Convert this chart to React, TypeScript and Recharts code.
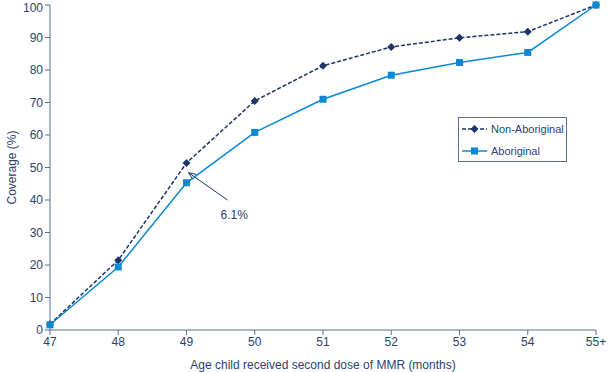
import React from 'react';
import { LineChart, Line, XAxis, YAxis, ReferenceLine } from 'recharts';

const months = [47, 48, 49, 50, 51, 52, 53, 54, 55];
const nonAboriginal = [1.8, 21.5, 51.4, 70.5, 81.3, 87.1, 89.9, 91.8, 100];
const aboriginal = [1.6, 19.4, 45.3, 60.8, 71.0, 78.4, 82.3, 85.4, 100];
const yTicks = [0, 10, 20, 30, 40, 50, 60, 70, 80, 90, 100];

const NAVY = '#1b3566';
const BLUE = '#0a88d4';
const AXIS = '#5b6f96';
const TEXT = '#2c4170';
const FONT = '"Liberation Sans", Arial, sans-serif';

const data = months.map((m, i) => ({
  month: m,
  nonAboriginal: nonAboriginal[i],
  aboriginal: aboriginal[i],
}));

const Diamond = (props: any) => {
  const { cx, cy, index } = props;
  if (cx == null || cy == null) return <g key={`d-${index}`} />;
  const r = 4;
  return (
    <path
      key={`d-${index}`}
      d={`M${cx},${cy - r}L${cx + r},${cy}L${cx},${cy + r}L${cx - r},${cy}Z`}
      fill={NAVY}
    />
  );
};

const Square = (props: any) => {
  const { cx, cy, index } = props;
  if (cx == null || cy == null) return <g key={`s-${index}`} />;
  return <rect key={`s-${index}`} x={cx - 3.5} y={cy - 3.5} width={7} height={7} fill={BLUE} />;
};

const Arrow = (props: any) => {
  const { x1, y1, x2, y2 } = props;
  const ang = Math.atan2(y2 - y1, x2 - x1);
  const L = 8;
  const a1 = ang + 0.4;
  const a2 = ang - 0.4;
  return (
    <g>
      <line x1={x1} y1={y1} x2={x2} y2={y2} stroke={NAVY} strokeWidth={1} />
      <path
        d={`M${x2 - L * Math.cos(a1)},${y2 - L * Math.sin(a1)}L${x2},${y2}L${x2 - L * Math.cos(a2)},${y2 - L * Math.sin(a2)}`}
        fill="none"
        stroke={NAVY}
        strokeWidth={1}
      />
    </g>
  );
};

const LegendBox = () => (
  <div
    style={{
      position: 'absolute',
      left: 458,
      top: 117,
      width: 107,
      height: 43,
      boxSizing: 'content-box',
      border: `1px solid ${AXIS}`,
      background: '#fff',
      fontSize: 11,
      color: TEXT,
      fontFamily: FONT,
      whiteSpace: 'nowrap',
    }}
  >
    <div style={{ display: 'flex', alignItems: 'center', height: 14, marginTop: 4, marginLeft: 3 }}>
      <svg width={25} height={10} style={{ marginRight: 4 }}>
        <line x1={0} y1={5} x2={25} y2={5} stroke={NAVY} strokeWidth={1.5} strokeDasharray="4 2" />
        <path d="M12.5,1L16.5,5L12.5,9L8.5,5Z" fill={NAVY} />
      </svg>
      Non-Aboriginal
    </div>
    <div style={{ display: 'flex', alignItems: 'center', height: 14, marginTop: 8, marginLeft: 3 }}>
      <svg width={25} height={10} style={{ marginRight: 4 }}>
        <line x1={0} y1={5} x2={25} y2={5} stroke={BLUE} strokeWidth={1.5} />
        <rect x={9} y={1.5} width={7} height={7} fill={BLUE} />
      </svg>
      Aboriginal
    </div>
  </div>
);

export default function App() {
  return (
    <div style={{ position: 'absolute', left: 0, top: 0, width: 613, height: 372 }}>
      <LineChart
        width={613}
        height={372}
        data={data}
        margin={{ top: 5, right: 17, bottom: 2, left: 0 }}
        style={{ fontFamily: FONT }}
      >
        <XAxis
          dataKey="month"
          type="number"
          domain={[47, 55]}
          ticks={months}
          tickFormatter={(v: number) => (v === 55 ? '55+' : String(v))}
          height={40}
          stroke={AXIS}
          tick={{ fill: TEXT, fontSize: 12 }}
          tickSize={5}
          label={{ value: 'Age child received second dose of MMR (months)', position: 'insideBottom', offset: 1, fill: TEXT, fontSize: 12 }}
        />
        <YAxis
          domain={[0, 100]}
          ticks={yTicks}
          width={50}
          stroke={AXIS}
          tick={{ fill: TEXT, fontSize: 12 }}
          tickSize={5}
          label={{ value: 'Coverage (%)', angle: -90, position: 'insideLeft', offset: 12, fill: TEXT, fontSize: 12, style: { textAnchor: 'middle' } }}
        />
        <ReferenceLine
          segment={[{ x: 49.6, y: 40 }, { x: 49.03, y: 48.4 }]}
          shape={<Arrow />}
          ifOverflow="visible"
        />
        <ReferenceLine
          segment={[{ x: 49.7, y: 36 }, { x: 49.7, y: 36 }]}
          stroke="none"
          ifOverflow="visible"
          label={{ value: '6.1%', position: 'bottom', fill: TEXT, fontSize: 12, offset: -3 }}
        />
        <Line
          type="linear"
          dataKey="nonAboriginal"
          name="Non-Aboriginal"
          stroke={NAVY}
          strokeWidth={1.5}
          strokeDasharray="4 2"
          dot={<Diamond />}
          activeDot={false}
          isAnimationActive={false}
        />
        <Line
          type="linear"
          dataKey="aboriginal"
          name="Aboriginal"
          stroke={BLUE}
          strokeWidth={1.5}
          dot={<Square />}
          activeDot={false}
          isAnimationActive={false}
        />
      </LineChart>
      <LegendBox />
    </div>
  );
}
